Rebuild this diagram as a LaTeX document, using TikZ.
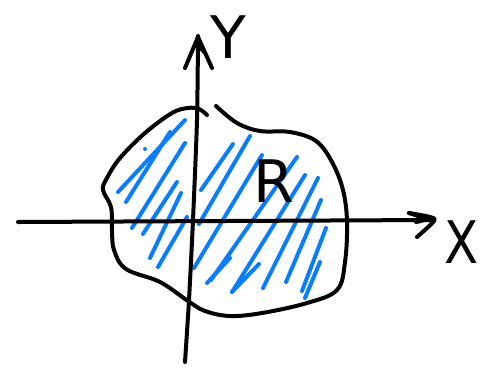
\documentclass[tikz,border=0pt]{standalone}
\usepackage{fontspec}
\setmainfont{DejaVu Sans}
\definecolor{hatch}{RGB}{10,125,250}
\begin{document}
\begin{tikzpicture}[x=0.75pt,y=-0.75pt,
  pen/.style={line width=3pt,line cap=round,line join=round,black},
  hatchpen/.style={line width=3pt,line cap=round,line join=round,hatch},
  lbl/.style={font=\fontsize{44}{44}\selectfont,inner sep=0pt}]
\useasboundingbox (0,0) rectangle (481,369);
% hatching
\foreach \a/\b in {
  {185,120}/{118,192},
  {170,132}/{126,202},
  {185,143}/{132,228},
  {177,182}/{143,234},
  {181,193}/{150,258},
  {187,217}/{158,267},
  {233,144}/{201,190},
  {250,136}/{199,224},
  {262,155}/{194,268},
  {297,157}/{211,280},
  {305,175}/{232,292},
  {318,178}/{263,288},
  {321,200}/{286,282},
  {326,228}/{302,291},
  {320,262}/{305,298},
  {232,292}/{259,264},
  {230,258}/{207,283}}
  {\draw[hatchpen] (\a) -- (\b);}
\fill[hatch] (145,149) circle (2);
% region boundary
\draw[pen] plot[smooth,tension=0.6] coordinates {
  (207,115) (199,109) (188,108) (172,113) (145,133) (120,158) (107,178) (103,190)
  (111,207) (112,230) (114,250) (126,269) (160,282) (188,301) (205,311) (230,316)
  (262,313) (307,303) (337,290) (345,262) (347,222) (343,190) (332,162) (316,141)
  (290,132) (260,131) (237,123) (216,106)};
% axes
\coordinate (xs) at (18,222);
\coordinate (xe) at (432,220);
\coordinate (ys) at (185,362);
\coordinate (ye) at (198,36);
\draw[pen] (xs) -- (xe);
\draw[pen] plot[smooth] coordinates {(409,213) (430,217) (434,221) (417,237)};
\draw[pen] plot[smooth] coordinates {(409,213) (425,219) (416,222)};
\draw[pen] plot[smooth,tension=0.4] coordinates {(ys) (189,300) (193,220) (197,120) (ye)};
\draw[pen] (185,68) -- (198,37) -- (212,68);
\draw[pen] (200,47) -- (204,52);
% labels
\node[lbl,xscale=0.85] (X) at (462,242) {X};
\node[lbl] (Y) at (228,37) {Y};
\node[lbl] (R) at (274,181) {R};
\end{tikzpicture}
\end{document}
